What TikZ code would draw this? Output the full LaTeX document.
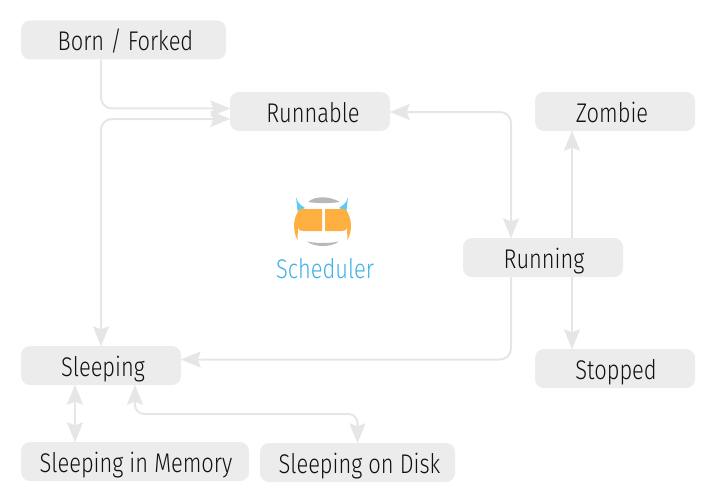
\documentclass[tikz,border=0pt]{standalone}
\usepackage{fontspec}
\setmainfont{Fira Sans Light}[FakeStretch=0.81]
\usetikzlibrary{arrows.meta,calc}
\definecolor{boxfill}{HTML}{ECECEC}
\definecolor{conn}{HTML}{E6E6E6}
\definecolor{txt}{HTML}{111111}
\definecolor{sched}{HTML}{3FB0E8}
\definecolor{iconorange}{HTML}{FDB040}
\definecolor{iconcyan}{HTML}{5CCBF8}
\definecolor{icongray}{HTML}{B8B8B8}
\tikzset{
  statebox/.style={fill=boxfill,rounded corners=9pt,text=txt,font=\fontsize{27}{30}\selectfont,inner sep=0pt,minimum height=39pt,text height=21pt,text depth=0pt},
  link/.style={draw=conn,line width=2pt,rounded corners=11pt,arrows={-Stealth[length=20pt,width=16pt,inset=3pt]},shorten >=-0.5pt},
  bilink/.style={link,arrows={Stealth[length=20pt,width=16pt,inset=3pt]-Stealth[length=20pt,width=16pt,inset=3pt]},shorten <=-0.5pt},
}
\begin{document}
\begin{tikzpicture}[x=1pt,y=-1pt]
\useasboundingbox (0,0) rectangle (711,500);
\node[statebox,minimum width=205pt] (born) at (123.5,40) {\hspace*{4pt}Born / Forked};
\node[statebox,minimum width=160pt] (runnable) at (310,111.5) {\hspace*{6pt}Runnable};
\node[statebox,minimum width=160pt] (zombie) at (615,111.5) {\hspace*{-6pt}Zombie};
\node[statebox,minimum width=160pt] (running) at (543,257.5) {\hspace*{2pt}Running};
\node[statebox,minimum width=160pt] (stopped) at (615,368.5) {\hspace*{2pt}Stopped};
\node[statebox,minimum width=160pt] (sleeping) at (101,365.5) {\hspace*{4pt}Sleeping};
\node[statebox,minimum width=228pt] (mem) at (135,461.5) {\hspace*{2pt}Sleeping in Memory};
\node[statebox,minimum width=195pt] (disk) at (357.5,462.5) {\hspace*{4pt}Sleeping on Disk};
\node[text=sched,font=\fontsize{27}{30}\selectfont,anchor=base] (schedlabel) at (325,278) {Scheduler};
\draw[link] ([xshift=-22.5pt]born.south) |- ([yshift=3pt]runnable.west);
\draw[bilink] ([yshift=-7.5pt]runnable.west) -| (sleeping.north);
\draw[bilink] ([yshift=-0.5pt]runnable.east) -| ([xshift=-32pt]running.north);
\draw[link] ([xshift=29pt]running.north) -- ([xshift=29pt]running.north |- zombie.south);
\draw[link] ([xshift=29pt]running.south) -- ([xshift=29pt]running.south |- stopped.north);
\draw[link] ([xshift=-32pt]running.south) |- ([yshift=6pt]sleeping.east);
\draw[bilink] ([xshift=-26pt]sleeping.south) -- ([xshift=-26pt]sleeping.south |- mem.north);
\draw[bilink,rounded corners=9pt] ([xshift=34pt]sleeping.south) |- ($(sleeping.south)!0.5!(disk.north)$) -| (disk.north);
% scheduler icon
\fill[icongray] (308,202) .. controls (315,195.7) and (329,195.7) .. (340,202) .. controls (330,203.5) and (317,203.5) .. cycle;
\fill[icongray] (307,241.5) .. controls (316,243.5) and (329,243.5) .. (339,241.5) .. controls (331,247.5) and (315,247.5) .. cycle;
\fill[iconcyan] (296,197) .. controls (298,203) .. (305,208) -- (297.5,211) -- cycle;
\fill[iconcyan] (348,197) .. controls (346,203) .. (339,208) -- (346.5,211) -- cycle;
\fill[iconorange] (300,209) -- (322,209) -- (322,231) -- (303,231) .. controls (300,231) and (298.5,230) .. (298,228) -- (297.5,240) .. controls (293,232) and (292,218) .. cycle;
\fill[iconorange] (345,209) -- (325,209) -- (325,231) -- (342,231) .. controls (345,231) and (346.5,230) .. (347,228) -- (347.5,240) .. controls (352,232) and (353,218) .. cycle;
\end{tikzpicture}
\end{document}
